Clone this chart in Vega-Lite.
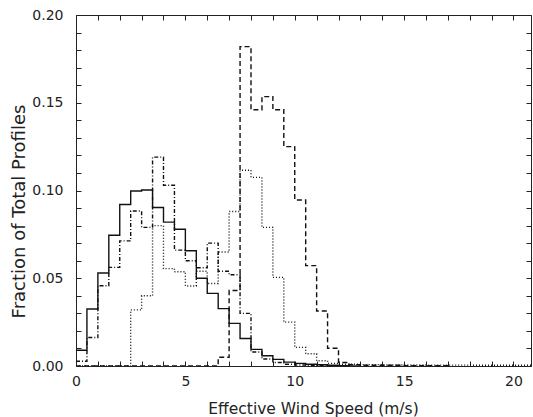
{
  "$schema": "https://vega.github.io/schema/vega-lite/v6.json",
  "width": 455,
  "height": 351,
  "autosize": {"type": "none"},
  "padding": {"left": 76, "top": 15, "right": 2, "bottom": 51},
  "background": "white",
  "config": {"view": {"stroke": "#222", "strokeWidth": 1}, "font": "DejaVu Sans"},
  "data": {"values": [
    {"s": "solid", "x": 0, "v": 0.009}, {"s": "solid", "x": 0.5, "v": 0.0325}, {"s": "solid", "x": 1, "v": 0.053}, {"s": "solid", "x": 1.5, "v": 0.0745},
    {"s": "solid", "x": 2, "v": 0.092}, {"s": "solid", "x": 2.5, "v": 0.0997}, {"s": "solid", "x": 3, "v": 0.1003}, {"s": "solid", "x": 3.5, "v": 0.0903},
    {"s": "solid", "x": 4, "v": 0.082}, {"s": "solid", "x": 4.5, "v": 0.0779}, {"s": "solid", "x": 5, "v": 0.0657}, {"s": "solid", "x": 5.5, "v": 0.050},
    {"s": "solid", "x": 6, "v": 0.0414}, {"s": "solid", "x": 6.5, "v": 0.0327}, {"s": "solid", "x": 7, "v": 0.0243}, {"s": "solid", "x": 7.5, "v": 0.0157},
    {"s": "solid", "x": 8, "v": 0.0095}, {"s": "solid", "x": 8.5, "v": 0.0058}, {"s": "solid", "x": 9, "v": 0.0038}, {"s": "solid", "x": 9.5, "v": 0.0022},
    {"s": "solid", "x": 10, "v": 0.0015}, {"s": "solid", "x": 10.5, "v": 0.001}, {"s": "solid", "x": 11, "v": 0.0007}, {"s": "solid", "x": 11.5, "v": 0.0004},
    {"s": "solid", "x": 12, "v": 0.0002}, {"s": "solid", "x": 12.5, "v": 0.0001}, {"s": "solid", "x": 13, "v": 0},

    {"s": "dashdot", "x": 0, "v": 0.0027}, {"s": "dashdot", "x": 0.5, "v": 0.0162}, {"s": "dashdot", "x": 1, "v": 0.0457}, {"s": "dashdot", "x": 1.5, "v": 0.0562},
    {"s": "dashdot", "x": 2, "v": 0.0713}, {"s": "dashdot", "x": 2.5, "v": 0.0883}, {"s": "dashdot", "x": 3, "v": 0.079}, {"s": "dashdot", "x": 3.5, "v": 0.119},
    {"s": "dashdot", "x": 4, "v": 0.103}, {"s": "dashdot", "x": 4.5, "v": 0.066}, {"s": "dashdot", "x": 5, "v": 0.060}, {"s": "dashdot", "x": 5.5, "v": 0.056},
    {"s": "dashdot", "x": 6, "v": 0.070}, {"s": "dashdot", "x": 6.5, "v": 0.054}, {"s": "dashdot", "x": 7, "v": 0.052}, {"s": "dashdot", "x": 7.5, "v": 0.030},
    {"s": "dashdot", "x": 8, "v": 0.008}, {"s": "dashdot", "x": 8.5, "v": 0.004}, {"s": "dashdot", "x": 9, "v": 0.002}, {"s": "dashdot", "x": 9.5, "v": 0.001},
    {"s": "dashdot", "x": 10, "v": 0.0006}, {"s": "dashdot", "x": 10.5, "v": 0.0003}, {"s": "dashdot", "x": 11, "v": 0.0002}, {"s": "dashdot", "x": 12, "v": 0},

    {"s": "dotted", "x": 0, "v": 0}, {"s": "dotted", "x": 2.5, "v": 0.032}, {"s": "dotted", "x": 3, "v": 0.040}, {"s": "dotted", "x": 3.5, "v": 0.080},
    {"s": "dotted", "x": 4, "v": 0.0555}, {"s": "dotted", "x": 4.5, "v": 0.0537}, {"s": "dotted", "x": 5, "v": 0.0456}, {"s": "dotted", "x": 5.5, "v": 0.054},
    {"s": "dotted", "x": 6, "v": 0.047}, {"s": "dotted", "x": 6.5, "v": 0.065}, {"s": "dotted", "x": 7, "v": 0.088}, {"s": "dotted", "x": 7.5, "v": 0.1115},
    {"s": "dotted", "x": 8, "v": 0.1075}, {"s": "dotted", "x": 8.5, "v": 0.079}, {"s": "dotted", "x": 9, "v": 0.0505}, {"s": "dotted", "x": 9.5, "v": 0.025},
    {"s": "dotted", "x": 10, "v": 0.0106}, {"s": "dotted", "x": 10.5, "v": 0.007}, {"s": "dotted", "x": 11, "v": 0.003}, {"s": "dotted", "x": 11.5, "v": 0.0015},
    {"s": "dotted", "x": 12, "v": 0.001}, {"s": "dotted", "x": 13, "v": 0.0008}, {"s": "dotted", "x": 14, "v": 0.0006}, {"s": "dotted", "x": 16, "v": 0.0005},
    {"s": "dotted", "x": 18, "v": 0.0004}, {"s": "dotted", "x": 20.8, "v": 0.0004},

    {"s": "dashed", "x": 0, "v": 0}, {"s": "dashed", "x": 6.5, "v": 0.005}, {"s": "dashed", "x": 7, "v": 0.043}, {"s": "dashed", "x": 7.5, "v": 0.182},
    {"s": "dashed", "x": 8, "v": 0.146}, {"s": "dashed", "x": 8.5, "v": 0.1535}, {"s": "dashed", "x": 9, "v": 0.146}, {"s": "dashed", "x": 9.5, "v": 0.125},
    {"s": "dashed", "x": 10, "v": 0.0946}, {"s": "dashed", "x": 10.5, "v": 0.0572}, {"s": "dashed", "x": 11, "v": 0.0313}, {"s": "dashed", "x": 11.5, "v": 0.0101},
    {"s": "dashed", "x": 12, "v": 0.002}, {"s": "dashed", "x": 12.5, "v": 0.0008}, {"s": "dashed", "x": 13, "v": 0.0004}, {"s": "dashed", "x": 15, "v": 0.0002}, {"s": "dashed", "x": 17, "v": 0}
  ]},
  "resolve": {"axis": {"x": "independent", "y": "independent"}},
  "layer": [
    {
      "mark": {"type": "line", "interpolate": "step-after", "clip": true, "strokeWidth": 1.4, "color": "#111"},
      "encoding": {
        "x": {"field": "x", "type": "quantitative",
              "scale": {"domain": [0, 20.8], "nice": false, "zero": false},
              "axis": {"orient": "bottom", "values": [0,1,2,3,4,5,6,7,8,9,10,11,12,13,14,15,16,17,18,19,20],
                       "labelExpr": "datum.value % 5 === 0 ? datum.label : ''",
                       "grid": false, "domain": false, "tickSize": -5, "tickColor": "#222", "tickWidth": 1,
                       "labelPadding": 13, "labelFontSize": 14, "labelColor": "#222", "labelFont": "DejaVu Sans",
                       "labelFlush": false, "labelOverlap": false,
                       "title": "Effective Wind Speed (m/s)", "titleFont": "DejaVu Sans", "titleFontSize": 15.5, "titleFontWeight": "normal", "titleColor": "#222",
                       "titleX": 237, "titleY": 47, "titleBaseline": "alphabetic", "titleAlign": "center",
                       "encode": {"ticks": {"y2": {"value": {"expr": "datum.value % 5 === 0 ? -7 : -4"}}}}}},
        "y": {"field": "v", "type": "quantitative",
              "scale": {"domain": [0, 0.2], "nice": false},
              "axis": {"orient": "left", "values": [0,0.01,0.02,0.03,0.04,0.05,0.06,0.07,0.08,0.09,0.1,0.11,0.12,0.13,0.14,0.15,0.16,0.17,0.18,0.19,0.2],
                       "labelExpr": "abs(datum.value*20 - round(datum.value*20)) < 1e-6 ? format(datum.value, '.2f') : ''",
                       "grid": false, "domain": false, "tickSize": -5, "tickColor": "#222", "tickWidth": 1,
                       "labelPadding": 18, "labelFontSize": 14, "labelColor": "#222", "labelFont": "DejaVu Sans",
                       "labelFlush": false, "labelOverlap": false,
                       "title": "Fraction of Total Profiles", "titleFont": "DejaVu Sans", "titleFontSize": 18, "titleFontWeight": "normal", "titleColor": "#222",
                       "titleX": -57, "titleY": 196, "titleBaseline": "middle", "titleAngle": -90, "titleAlign": "center",
                       "encode": {"ticks": {"x2": {"value": {"expr": "abs(datum.value*20 - round(datum.value*20)) < 1e-6 ? 7 : 4"}}}}}},
        "strokeDash": {"field": "s", "type": "nominal",
                       "scale": {"domain": ["solid", "dashdot", "dotted", "dashed"], "range": [[1, 0], [4, 2, 1, 2], [1, 2], [5, 3]]},
                       "legend": null}
      }
    },
    {
      "mark": {"type": "point", "opacity": 0},
      "encoding": {
        "x": {"field": "x", "type": "quantitative",
              "axis": {"orient": "top", "values": [0,1,2,3,4,5,6,7,8,9,10,11,12,13,14,15,16,17,18,19,20],
                       "labels": false, "title": null, "grid": false, "domain": false, "tickSize": -5, "tickColor": "#222", "tickWidth": 1,
                       "encode": {"ticks": {"y2": {"value": {"expr": "datum.value % 5 === 0 ? 7 : 4"}}}}}},
        "y": {"field": "v", "type": "quantitative",
              "axis": {"orient": "right", "values": [0,0.01,0.02,0.03,0.04,0.05,0.06,0.07,0.08,0.09,0.1,0.11,0.12,0.13,0.14,0.15,0.16,0.17,0.18,0.19,0.2],
                       "labels": false, "title": null, "grid": false, "domain": false, "tickSize": -5, "tickColor": "#222", "tickWidth": 1,
                       "encode": {"ticks": {"x2": {"value": {"expr": "abs(datum.value*20 - round(datum.value*20)) < 1e-6 ? -7 : -4"}}}}}}
      }
    }
  ]
}
